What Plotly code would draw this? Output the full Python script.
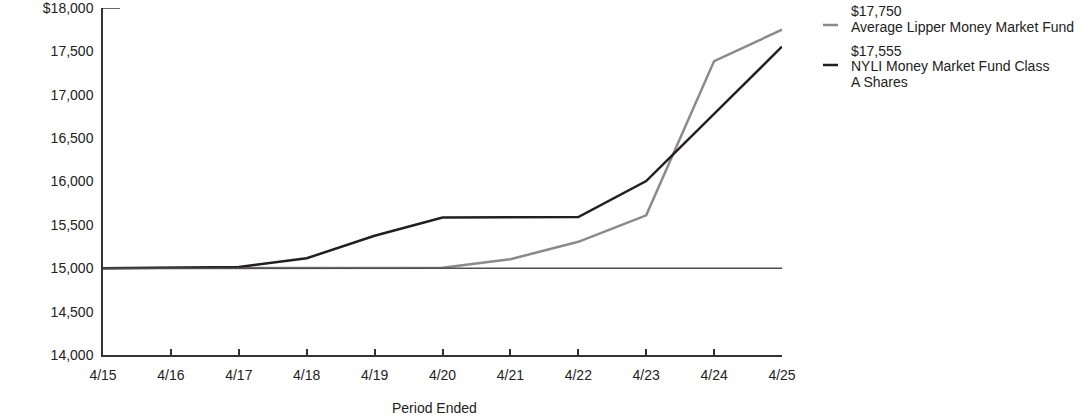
import plotly.graph_objects as go

periods = ["4/15", "4/16", "4/17", "4/18", "4/19", "4/20", "4/21", "4/22", "4/23", "4/24", "4/25"]
lipper_avg = [15000, 15000, 15000, 15000, 15000, 15005, 15104, 15305, 15610, 17388, 17750]
nyli_class_a = [15000, 15005, 15015, 15115, 15375, 15585, 15587, 15590, 16005, 16778, 17555]
y_ticks = [14000, 14500, 15000, 15500, 16000, 16500, 17000, 17500, 18000]
y_tick_text = ["14,000", "14,500", "15,000", "15,500", "16,000", "16,500", "17,000", "17,500", "$18,000"]
baseline = 15000

series = [
    ("Average Lipper Money Market Fund", lipper_avg, "#8a8a8a"),
    ("NYLI Money Market Fund Class<br>A Shares", nyli_class_a, "#231f20"),
]

FONT = "Liberation Sans, Arial, sans-serif"
W, H = 1092, 417
ML, MR, MT, MB = 103, 310, 8, 62
fig = go.Figure()

for name, vals, color in series:
    fig.add_trace(go.Scatter(x=periods, y=vals, mode="lines", name=name,
                             line=dict(color=color, width=2.5), showlegend=False))

# baseline line at 15,000
fig.add_trace(go.Scatter(x=[periods[0], periods[-1]], y=[baseline, baseline], mode="lines",
                         line=dict(color="#4d4d4d", width=1.5), showlegend=False, hoverinfo="skip"))

fig.update_layout(
    width=W, height=H,
    margin=dict(l=ML, r=MR, t=MT, b=MB, autoexpand=False),
    plot_bgcolor="white", paper_bgcolor="white",
    font=dict(family=FONT, size=14, color="#222"),
    xaxis=dict(type="category", categoryorder="array", categoryarray=periods,
               range=[0, len(periods) - 1], showgrid=False, zeroline=False,
               showline=True, linecolor="#333", linewidth=1.5,
               ticks="inside", ticklen=6, tickcolor="#333", tickwidth=1.5,
               ticklabelstandoff=6, automargin=False,
               tickfont=dict(size=14, color="#222")),
    yaxis=dict(range=[14000, 18000.01], tickvals=y_ticks, ticktext=y_tick_text, showgrid=False,
               zeroline=False, showline=True, linecolor="#333", linewidth=1.5, ticks="",
               ticklabelstandoff=5, ticklabeloverflow="allow", automargin=False,
               tickfont=dict(size=14, color="#222")),
)

plot_w = W - ML - MR
plot_h = H - MT - MB
def px_to_paper_x(px):
    return (px - ML) / plot_w
def px_to_paper_y(py):
    return (H - MB - py) / plot_h

# top stub at 18,000
fig.add_shape(type="line", xref="paper", yref="y", x0=0, x1=px_to_paper_x(120), y0=18000, y1=18000,
              line=dict(color="#333", width=1.5))

# x-axis title
fig.add_annotation(xref="paper", yref="paper", x=px_to_paper_x(434), y=px_to_paper_y(408),
                   text="Period Ended", showarrow=False, xanchor="center", yanchor="middle",
                   font=dict(family=FONT, size=14, color="#222"))

# custom legend
legend_rows = [
    (lipper_avg, "#8a8a8a", ["Average Lipper Money Market Fund"], 11, 25),
    (nyli_class_a, "#231f20", ["NYLI Money Market Fund Class", "A Shares"], 51, 65),
]
for vals, color, lines, top_y, swatch_y in legend_rows:
    fig.add_shape(type="line", xref="paper", yref="paper",
                  x0=px_to_paper_x(823), x1=px_to_paper_x(838),
                  y0=px_to_paper_y(swatch_y), y1=px_to_paper_y(swatch_y),
                  line=dict(color=color, width=2.5))
    texts = [f"${vals[-1]:,.0f}"] + lines
    for i, t in enumerate(texts):
        fig.add_annotation(xref="paper", yref="paper", x=px_to_paper_x(849),
                           y=px_to_paper_y(top_y + i * 15.5), text=t, showarrow=False,
                           xanchor="left", yanchor="middle",
                           font=dict(family=FONT, size=14, color="#222"))

fig.write_html("out.html", config={"displayModeBar": False},
               post_script="document.body.style.margin='0';document.body.style.padding='0';")
